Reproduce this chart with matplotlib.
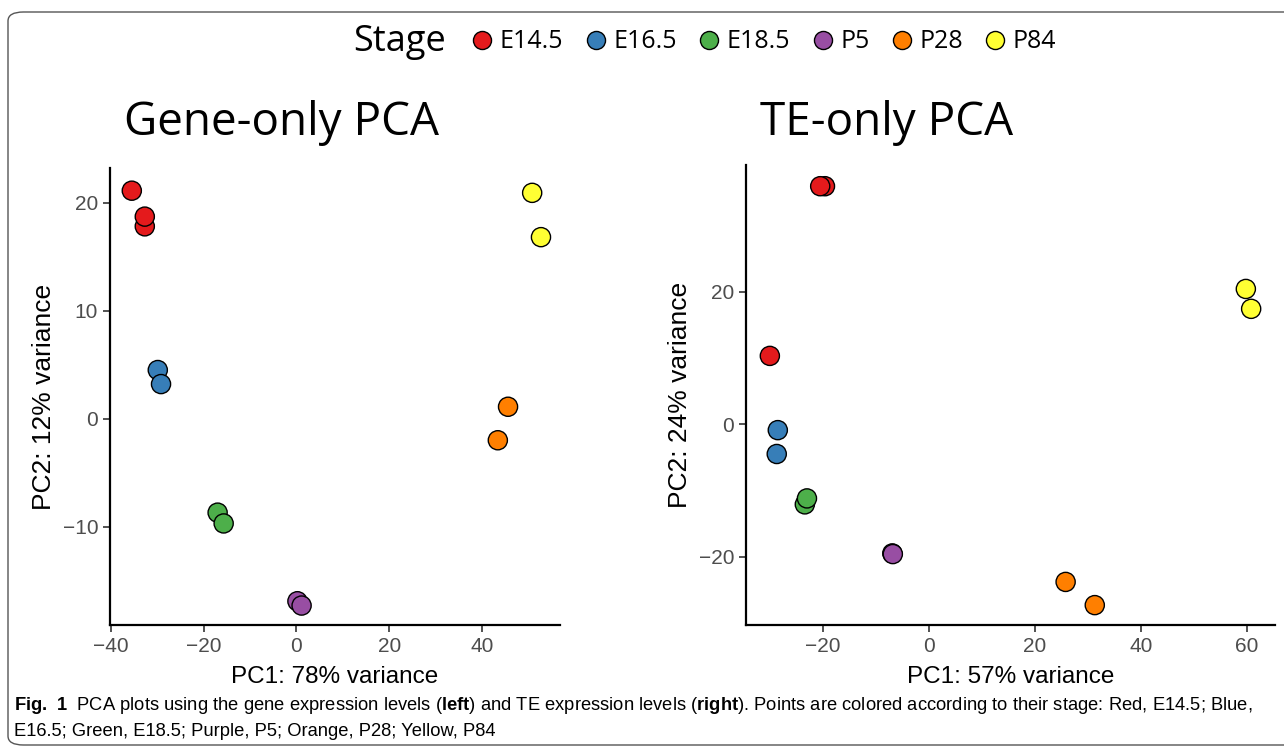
import matplotlib
matplotlib.use("Agg")
import matplotlib.pyplot as plt
from matplotlib.lines import Line2D
from matplotlib.patches import FancyBboxPatch

plt.rcParams['mathtext.fontset'] = 'custom'
plt.rcParams['mathtext.rm'] = 'Liberation Sans'
plt.rcParams['mathtext.bf'] = 'Liberation Sans:bold'

SANS = ['Liberation Sans', 'DejaVu Sans']
TITLE = ['Open Sans', 'DejaVu Sans']

stages = ['E14.5', 'E16.5', 'E18.5', 'P5', 'P28', 'P84']
colors = ['#E41A1C', '#377EB8', '#4DAF4A', '#984EA3', '#FF7F00', '#FFFF33']

# Gene-only PCA
gene_stage = ['E14.5', 'E14.5', 'E14.5', 'E16.5', 'E16.5', 'E18.5', 'E18.5',
              'P5', 'P5', 'P28', 'P28', 'P84', 'P84']
gene_pc1 = [-35.5, -32.7, -32.7, -29.9, -29.2, -17.0, -15.7, 0.2, 1.1, 43.4, 45.6, 50.8, 52.7]
gene_pc2 = [21.1, 17.8, 18.7, 4.5, 3.2, -8.7, -9.7, -16.9, -17.3, -2.0, 1.1, 20.9, 16.8]

# TE-only PCA
te_stage = ['E14.5', 'E14.5', 'E14.5', 'E16.5', 'E16.5', 'E18.5', 'E18.5',
            'P5', 'P5', 'P28', 'P28', 'P84', 'P84']
te_pc1 = [-19.6, -20.5, -30.0, -28.5, -28.7, -23.4, -23.0, -6.9, -6.8, 25.8, 31.3, 59.8, 60.8]
te_pc2 = [35.9, 35.9, 10.3, -0.9, -4.5, -12.1, -11.2, -19.5, -19.6, -23.8, -27.3, 20.4, 17.4]

panels = [
    dict(title='Gene-only PCA', x=gene_pc1, y=gene_pc2, s=gene_stage,
         xlabel='PC1: 78% variance', ylabel='PC2: 12% variance',
         xlim=(-40.2, 56.8), ylim=(-19.1, 23.2), xticks=[-40, -20, 0, 20, 40],
         yticks=[-10, 0, 10, 20], rect=[110/1284, 1-625/749, 450/1284, 457/749],
         title_x=282/1284),
    dict(title='TE-only PCA', x=te_pc1, y=te_pc2, s=te_stage,
         xlabel='PC1: 57% variance', ylabel='PC2: 24% variance',
         xlim=(-34.5, 65.3), ylim=(-30.3, 39.1), xticks=[-20, 0, 20, 40, 60],
         yticks=[-20, 0, 20], rect=[746/1284, 1-625/749, 529/1284, 460/749],
         title_x=887/1284),
]

fig = plt.figure(figsize=(12.84, 7.49), dpi=100)

# outer rounded border
box = FancyBboxPatch((8/1284, 1-745/749), 1.05, 733/749,
                     boxstyle="round,pad=0,rounding_size=0.012",
                     transform=fig.transFigure, fill=False, ec='#555555', lw=1.0)
fig.patches.append(box)

cmap = dict(zip(stages, colors))
for p in panels:
    ax = fig.add_axes(p['rect'])
    ax.scatter(p['x'], p['y'], c=[cmap[s] for s in p['s']], s=190,
               edgecolors='black', linewidths=1.0, zorder=3)
    ax.set_xlim(*p['xlim'])
    ax.set_ylim(*p['ylim'])
    ax.set_xticks(p['xticks'])
    ax.set_yticks(p['yticks'])
    ax.set_xticklabels(['\u2212' + str(abs(t)) if t < 0 else str(t) for t in p['xticks']])
    ax.set_yticklabels(['\u2212' + str(abs(t)) if t < 0 else str(t) for t in p['yticks']])
    for side in ['top', 'right']:
        ax.spines[side].set_visible(False)
    for side in ['left', 'bottom']:
        ax.spines[side].set_linewidth(1.6)
        ax.spines[side].set_color('black')
    ax.tick_params(direction='out', length=5, width=1.2, color='#333333',
                   labelcolor='#4D4D4D', labelsize=15)
    for lab in ax.get_xticklabels() + ax.get_yticklabels():
        lab.set_family(SANS)
    ax.set_xlabel(p['xlabel'], fontsize=17.5, family=SANS, labelpad=7)
    ax.set_ylabel(p['ylabel'], fontsize=19, family=SANS, labelpad=5)
    fig.text(p['title_x'], 1-135/749, p['title'], ha='center', va='baseline',
             fontsize=33, family=TITLE)

# legend
handles = [Line2D([], [], marker='o', ls='none', markersize=13, markerfacecolor=c,
                  markeredgecolor='black', markeredgewidth=1.0) for c in colors]
fig.text(400/1284, 1-42/749, 'Stage', ha='center', va='center', fontsize=26,
         family=TITLE)
fig.legend(handles, stages, loc='center', bbox_to_anchor=(763/1284, 1-42/749),
           ncol=6, frameon=False, handletextpad=0.2, columnspacing=0.8,
           prop=dict(family=TITLE, size=18), handlelength=1.0)

# caption
cap1 = (r"$\mathbf{Fig.\ 1}$  PCA plots using the gene expression levels ($\mathbf{left}$) "
        r"and TE expression levels ($\mathbf{right}$). Points are colored according to their "
        r"stage: Red, E14.5; Blue,")
cap2 = "E16.5; Green, E18.5; Purple, P5; Orange, P28; Yellow, P84"
fig.text(14/1284, 1-706/749, cap1, ha='left', va='center', fontsize=13.2, family=SANS)
fig.text(14/1284, 1-731/749, cap2, ha='left', va='center', fontsize=13.2, family=SANS)

fig.savefig('out.png', dpi=100)
